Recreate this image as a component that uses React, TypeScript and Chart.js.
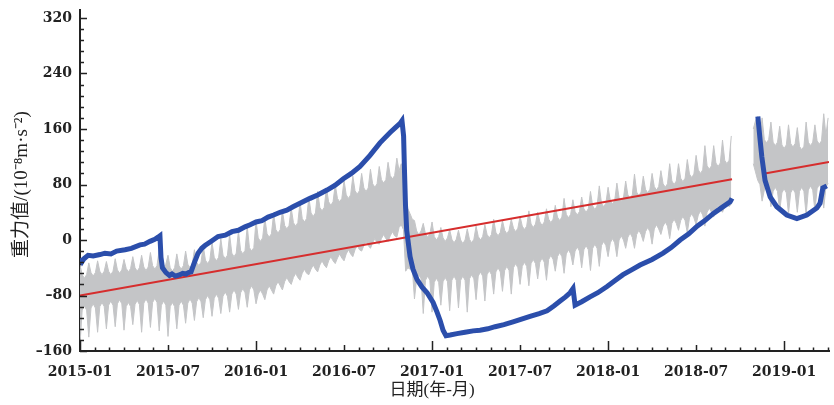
import React, { useEffect, useRef } from "react";
import { Chart, registerables } from "chart.js";

Chart.register(...registerables);

// x values are months counted from 2015-01
const xTickLabels = ["2015-01", "2015-07", "2016-01", "2016-07", "2017-01", "2017-07", "2018-01", "2018-07", "2019-01"];
const xMaxMonth = 51.06;
const yMin = -160;
const yMax = 320;
const yStep = 80;
const xAxisTitle = "日期(年-月)";
const yAxisTitle = "重力值/(10⁻⁸m·s⁻²)";

// Blue series (observed gravity)
const blueMonths = [
  0.03, 0.15, 0.27, 0.55, 0.9, 1.36, 1.7, 2.11, 2.5, 3.07, 3.5, 4.09, 4.4, 4.77, 5.1, 5.32, 5.45, 5.52, 5.62, 5.86,
  6.1, 6.27, 6.5, 6.82, 7.0, 7.23, 7.4, 7.57, 7.77, 8.05, 8.3, 8.52, 9.0, 9.41, 9.9, 10.36, 10.8, 11.25, 11.6, 12.0,
  12.4, 12.82, 13.2, 13.64, 14.1, 14.52, 15.1, 15.68, 16.2, 16.84, 17.4, 17.93, 18.5, 19.09, 19.77, 20.45, 21.14, 21.5,
  21.82, 21.95, 22.06, 22.12, 22.19, 22.27, 22.5, 22.7, 22.98, 23.32, 23.66, 24.07, 24.34, 24.55, 24.75, 24.95, 25.23,
  25.7, 26.25, 26.8, 27.27, 27.8, 28.3, 28.9, 29.52, 30.1, 30.68, 31.3, 31.84, 32.3, 32.73, 33.1, 33.41, 33.61, 33.75,
  34.2, 34.77, 35.3, 35.93, 36.5, 37.02, 37.6, 38.18, 39.0, 39.75, 40.3, 40.91, 41.5, 42.07, 42.6, 43.16, 43.7, 44.32,
  44.45,
  45.3,
  46.21, 46.36, 46.48, 46.7, 47.05, 47.5, 48.18, 48.87, 49.55, 50.23, 50.45, 50.64, 50.91,
];
const blueValues = [
  -26, -31, -27, -22, -23, -21, -19, -20, -16, -14, -12, -7, -6, -2, 1, 4, 6, -25, -40, -47,
  -51, -49, -52, -50, -48, -49, -47, -46, -34, -19, -12, -8, -1, 5, 7, 12, 14, 19, 22, 26,
  28, 33, 36, 40, 43, 48, 54, 60, 65, 72, 79, 88, 96, 106, 122, 140, 155, 162,
  168, 172, 150, 100, 50, 14, -24, -42, -57, -68, -76, -90, -104, -116, -130, -138, -137,
  -135, -133, -131, -130, -128, -125, -122, -118, -114, -110, -106, -102, -95, -88, -82, -76, -70, -94,
  -89, -82, -76, -67, -58, -50, -43, -36, -28, -19, -11, 0, 9, 20, 28, 38, 46, 55,
  60,
  null,
  178, 145, 120, 86, 62, 48, 36, 31, 36, 46, 53, 75, 78,
];

// Red trend line
const redMonths = [0, 44.45, 45.5, 46.5, 51.06];
const redValues = [-80, 87.5, null, 95.2, 112.4];

// Grey band (theoretical tide envelope), sampled every grayStep months
const grayStep = 0.15;
const grayStart1 = 0;
const grayLo1 = [
  -150, -101, -95, -101, -140, -98, -92, -98, -133, -96, -90, -96, -128, -94, -88, -94,
  -125, -92, -86, -92, -130, -96, -90, -96, -122, -93, -87, -93, -133, -91, -85, -91,
  -126, -90, -84, -90, -131, -94, -88, -94, -139, -96, -90, -96, -128, -94, -88, -94,
  -120, -91, -85, -91, -116, -89, -83, -89, -112, -86, -80, -86, -110, -84, -78, -84,
  -106, -81, -75, -81, -104, -78, -72, -78, -100, -76, -70, -76, -97, -72, -66, -72,
  -92, -78, -72, -78, -86, -72, -66, -72, -78, -66, -60, -66, -72, -60, -54, -60,
  -64, -54, -48, -54, -58, -48, -42, -48, -50, -42, -36, -42, -46, -36, -30, -36,
  -40, -30, -24, -30, -34, -26, -20, -26, -30, -20, -14, -20, -24, -14, -8, -14,
  -16, -8, -2, -8, -12, -4, 2, -4, -6, 2, 8, 2, -2, 6, 12, 6,
  4, 18, 22, 15, -45, -40, -42, -40, -85, -56, -50, -56, -106, -58, -52, -58,
  -104, -61, -55, -61, -94, -60, -54, -60, -102, -58, -52, -58, -98, -58, -52, -58,
  -104, -56, -50, -56, -86, -52, -46, -52, -88, -50, -44, -50, -78, -46, -40, -46,
  -74, -44, -38, -44, -78, -40, -34, -40, -64, -38, -32, -38, -66, -34, -28, -34,
  -56, -32, -26, -32, -58, -28, -22, -28, -45, -24, -18, -24, -48, -20, -14, -20,
  -36, -16, -10, -16, -40, -14, -8, -14, -44, -12, -6, -12, -38, -8, -2, -8,
  -24, -4, 2, -4, -24, 0, 6, 0, -12, 4, 10, 4, -12, 8, 14, 8,
  -2, 12, 18, 12, -6, 16, 22, 16, 8, 20, 26, 20, 2, 24, 30, 24,
  14, 28, 34, 28, 10, 32, 38, 32, 22, 36, 42, 36, 20, 40, 46, 40,
  33, 44, 50, 44, 40, 48, 54, 48, 52,
];
const grayHi1 = [
  -36, -50, -55, -50, -33, -47, -52, -47, -30, -45, -50, -45, -31, -45, -50, -45,
  -27, -43, -48, -43, -28, -41, -46, -41, -24, -40, -45, -40, -22, -39, -44, -39,
  -18, -37, -42, -37, -14, -35, -40, -35, -22, -40, -45, -40, -20, -37, -42, -37,
  -16, -35, -40, -35, -14, -32, -37, -32, -8, -29, -34, -29, -3, -25, -30, -25,
  2, -22, -27, -22, 8, -19, -24, -19, 13, -15, -20, -15, 20, -11, -16, -11,
  28, 3, -2, 3, 32, 9, 4, 9, 38, 15, 10, 15, 42, 21, 16, 21,
  46, 25, 20, 25, 55, 31, 26, 31, 62, 39, 34, 39, 70, 47, 42, 47,
  75, 55, 50, 55, 80, 60, 55, 60, 86, 65, 60, 65, 92, 71, 66, 71,
  96, 75, 70, 75, 102, 81, 76, 81, 106, 87, 82, 87, 112, 93, 88, 93,
  118, 100, 110, 90, 60, 45, 38, 30, 28, 13, 8, 13, 24, 9, 4, 9,
  26, 5, 0, 5, 18, 3, -2, 3, 15, 1, -4, 1, 14, 0, -5, 0,
  16, 1, -4, 1, 20, 5, 0, 5, 22, 8, 3, 8, 30, 11, 6, 11,
  28, 14, 9, 14, 30, 17, 12, 17, 34, 20, 15, 20, 42, 23, 18, 23,
  40, 26, 21, 26, 45, 30, 25, 30, 50, 33, 28, 33, 60, 37, 32, 37,
  58, 41, 36, 41, 62, 45, 40, 45, 70, 49, 44, 49, 78, 53, 48, 53,
  76, 57, 52, 57, 82, 61, 56, 61, 85, 65, 60, 65, 95, 69, 64, 69,
  92, 73, 68, 73, 96, 77, 72, 77, 100, 81, 76, 81, 110, 85, 80, 85,
  110, 89, 84, 89, 116, 95, 90, 95, 122, 101, 96, 101, 136, 107, 102, 107,
  136, 111, 106, 111, 144, 115, 110, 115, 150,
];
const grayStart2 = 45.9;
const grayLo2 = [
  110, 98, 86, 80,
  56, 72, 78, 72, 48, 70, 76, 70, 42, 68, 74, 68, 38, 68, 74, 68,
  40, 70, 76, 70, 36, 72, 78, 72, 42, 74, 80, 74,
  46, 76, 82,
];
const grayHi2 = [
  160, 172, 178, 150,
  176, 145, 140, 145, 170, 141, 136, 141, 164, 137, 132, 137, 166, 139, 134, 139,
  162, 135, 130, 135, 170, 141, 136, 141, 166, 143, 138, 143,
  182, 151, 176,
];

const BLUE = "#2b4eab";
const RED = "#d62d2d";
const GRAY = "#c4c5c7";
const AXIS = "#222222";

const tickFont = { family: '"DejaVu Serif", serif', size: 14, weight: "bold" as const };
const titleFamily = '"Liberation Serif", "Noto Sans CJK SC", serif';

const monthOfLabel = (s: string) => {
  const [y, m] = s.split("-").map(Number);
  return (y - 2015) * 12 + (m - 1);
};

const pts = (xs: number[], ys: (number | null)[]) => xs.map((x, i) => ({ x, y: ys[i] }));
const series = (start: number, ys: number[]) => ys.map((y, i) => ({ x: start + i * grayStep, y }));

const axisDecor = {
  id: "axisDecor",
  afterDraw(chart: any) {
    const { ctx, chartArea, scales } = chart;
    const xs = scales.x;
    const ys = scales.y;
    ctx.save();
    ctx.strokeStyle = AXIS;
    ctx.lineWidth = 2;
    ctx.beginPath();
    ctx.moveTo(chartArea.left, chartArea.top - 9);
    ctx.lineTo(chartArea.left, chartArea.top);
    ctx.stroke();
    ctx.lineWidth = 1.5;
    ctx.beginPath();
    for (let m = 0; m <= xs.max; m++) {
      const px = Math.round(xs.getPixelForValue(m)) + 0.5;
      const len = m % 12 === 0 ? 10 : m % 6 === 0 ? 6 : 3.5;
      ctx.moveTo(px, chartArea.bottom);
      ctx.lineTo(px, chartArea.bottom - len);
    }
    for (let v = yMin; v <= yMax; v += 16) {
      const py = Math.round(ys.getPixelForValue(v)) + 0.5;
      const len = v % yStep === 0 ? 7 : 4;
      ctx.moveTo(chartArea.left, py);
      ctx.lineTo(chartArea.left + len, py);
    }
    ctx.stroke();
    ctx.fillStyle = AXIS;
    ctx.font = `17px ${titleFamily}`;
    ctx.textAlign = "center";
    ctx.textBaseline = "middle";
    ctx.fillText(xAxisTitle, xs.getPixelForValue(monthOfLabel("2017-01")), chartArea.bottom + 40);
    ctx.restore();
  },
};

export default function App() {
  const ref = useRef<HTMLCanvasElement | null>(null);
  useEffect(() => {
    document.body.style.margin = "0";
    const canvas = ref.current;
    if (!canvas) return;
    const gray = (label: string, data: any[], fill: any) => ({
      label,
      data,
      borderColor: GRAY,
      backgroundColor: GRAY,
      borderWidth: 1,
      pointRadius: 0,
      fill,
      order: 3,
    });
    const chart = new Chart(canvas, {
      type: "line",
      data: {
        datasets: [
          {
            label: "observed",
            data: pts(blueMonths, blueValues),
            borderColor: BLUE,
            borderWidth: 5,
            pointRadius: 0,
            spanGaps: false,
            tension: 0,
            order: 0,
          },
          {
            label: "trend",
            data: pts(redMonths, redValues),
            borderColor: RED,
            borderWidth: 2,
            pointRadius: 0,
            spanGaps: false,
            order: 1,
          },
          gray("tideLo1", series(grayStart1, grayLo1), false),
          gray("tideHi1", series(grayStart1, grayHi1), "-1"),
          gray("tideLo2", series(grayStart2, grayLo2), false),
          gray("tideHi2", series(grayStart2, grayHi2), "-1"),
        ],
      },
      options: {
        animation: false,
        responsive: false,
        devicePixelRatio: 1,
        layout: { padding: { top: 18, right: 5, left: 0, bottom: 0 } },
        plugins: { legend: { display: false }, tooltip: { enabled: false } },
        scales: {
          x: {
            type: "linear",
            min: 0,
            max: xMaxMonth,
            grid: { display: false, drawTicks: false },
            border: { display: true, color: AXIS, width: 2 },
            afterBuildTicks: (scale: any) => {
              scale.ticks = xTickLabels.map((l) => ({ value: monthOfLabel(l) }));
            },
            afterFit: (scale: any) => {
              scale.height = 54;
            },
            ticks: {
              autoSkip: false,
              maxRotation: 0,
              padding: 13,
              color: AXIS,
              font: tickFont,
              callback: (v: any) => {
                const i = xTickLabels.findIndex((l) => monthOfLabel(l) === Number(v));
                return i >= 0 ? xTickLabels[i] : "";
              },
            },
          },
          y: {
            type: "linear",
            min: yMin,
            max: yMax,
            grid: { display: false, drawTicks: false },
            border: { display: true, color: AXIS, width: 2 },
            afterFit: (scale: any) => {
              scale.width = 80;
            },
            ticks: {
              stepSize: yStep,
              padding: 8,
              color: AXIS,
              font: tickFont,
              callback: (v: any) => (Number(v) < 0 ? "–" + Math.abs(Number(v)) : String(v)),
            },
            title: {
              display: true,
              text: yAxisTitle,
              color: AXIS,
              font: { family: titleFamily, size: 19 },
              padding: { top: 11, bottom: 0 },
            },
          },
        },
      },
      plugins: [axisDecor],
    });
    return () => chart.destroy();
  }, []);
  return (
    <div style={{ width: 834, height: 405 }}>
      <canvas ref={ref} width={834} height={405} style={{ display: "block" }} />
    </div>
  );
}
